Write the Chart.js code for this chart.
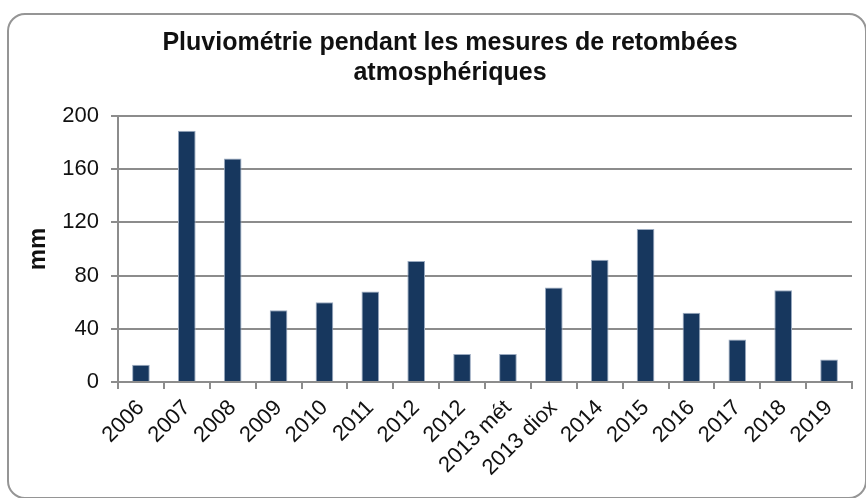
<!DOCTYPE html>
<html>
<head>
<meta charset="utf-8">
<script src="https://cdn.jsdelivr.net/npm/chart.js@4"></script>
<style>
  html, body { margin: 0; padding: 0; background: #fff; overflow: hidden; width: 866px; height: 498px; }
  #cadre {
    position: absolute; left: 7px; top: 13px;
    width: 856px; height: 482px;
    border: 2px solid #959595; border-radius: 18px;
  }
  #myChart { position: absolute; left: 9px; top: 15px; display: block; }
</style>
</head>
<body>
<div id="cadre"></div>
<canvas id="myChart" width="882" height="480"></canvas>
<script>
const annees = ["2006", "2007", "2008", "2009", "2010", "2011", "2012", "2012", "2013 mét", "2013 diox", "2014", "2015", "2016", "2017", "2018", "2019"];
const pluie = [13, 189, 168, 54, 60, 68, 91, 21, 21, 71, 92, 115, 52, 32, 69, 17];
const graduations = [0, 40, 80, 120, 160, 200];

const police = "'Liberation Sans', Arial, sans-serif";

const ctx = document.getElementById('myChart').getContext('2d');
const myChart = new Chart(ctx, {
    type: 'bar',
    data: {
        labels: annees,
        datasets: [{
            label: 'mm',
            data: pluie,
            backgroundColor: '#17375E',
            borderColor: '#9aaac0',
            borderWidth: 1,
            barPercentage: 0.385,
            categoryPercentage: 1
        }]
    },
    options: {
        responsive: false,
        animation: false,
        // marge gauche pour centrer le titre vers x=450
        layout: { padding: { top: 13, right: 39, left: 39, bottom: 0 } },
        plugins: {
            legend: { display: false },
            tooltip: { enabled: false },
            title: {
                display: true,
                text: ['Pluviométrie pendant les mesures de retombées', 'atmosphériques'],
                color: '#111',
                font: { family: police, size: 25, weight: 'bold', lineHeight: 1.2 },
                padding: { top: 0, bottom: 28 }
            }
        },
        scales: {
            x: {
                afterFit: (axe) => { axe.height = 113; },
                grid: {
                    offset: true,
                    drawOnChartArea: false,
                    color: '#8c8c8c',
                    lineWidth: 2,
                    tickLength: 7
                },
                border: { color: '#8c8c8c', width: 2 },
                ticks: {
                    color: '#111',
                    font: { family: police, size: 22 },
                    minRotation: 45,
                    maxRotation: 45,
                    padding: 6
                }
            },
            y: {
                min: 0,
                max: 200,
                afterFit: (axe) => { axe.width = 70; },
                afterBuildTicks: (axe) => { axe.ticks = graduations.map(v => ({ value: v })); },
                grid: { color: '#8c8c8c', lineWidth: 2, tickLength: 7 },
                border: { color: '#8c8c8c', width: 2 },
                ticks: {
                    color: '#111',
                    font: { family: police, size: 22 },
                    padding: 12
                },
                title: {
                    display: true,
                    text: 'mm',
                    color: '#111',
                    font: { family: police, size: 24, weight: 'bold' },
                    padding: { top: -24, bottom: 0 }
                }
            }
        }
    }
});
</script>
</body>
</html>
